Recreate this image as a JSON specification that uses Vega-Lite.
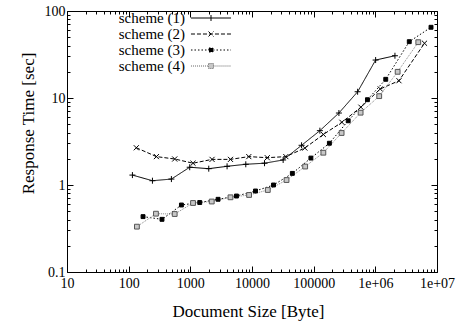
{
  "$schema": "https://vega.github.io/schema/vega-lite/v6.json",
  "width": 370,
  "height": 261,
  "autosize": {"type": "none"},
  "padding": {"left": 67, "top": 11, "right": 20, "bottom": 50},
  "background": "white",
  "config": {
    "view": {"stroke": "black", "strokeWidth": 1},
    "axis": {
      "labelFont": "Liberation Serif",
      "labelFontSize": 14,
      "labelColor": "black",
      "titleFont": "Liberation Serif",
      "titleFontSize": 17,
      "titleFontWeight": "normal",
      "titleColor": "black",
      "grid": false,
      "domain": false,
      "tickColor": "black",
      "tickWidth": 1,
      "labelOverlap": false,
      "labelFlush": false
    },
    "legend": {
      "labelFont": "Liberation Serif",
      "labelFontSize": 15,
      "labelColor": "black"
    }
  },
  "data": {
    "values": [
      {"s": "scheme (1)", "x": 115, "y": 1.30},
      {"s": "scheme (1)", "x": 243, "y": 1.12},
      {"s": "scheme (1)", "x": 493, "y": 1.17},
      {"s": "scheme (1)", "x": 977, "y": 1.60},
      {"s": "scheme (1)", "x": 1990, "y": 1.54},
      {"s": "scheme (1)", "x": 3944, "y": 1.64},
      {"s": "scheme (1)", "x": 7930, "y": 1.73},
      {"s": "scheme (1)", "x": 15960, "y": 1.78},
      {"s": "scheme (1)", "x": 31990, "y": 1.94},
      {"s": "scheme (1)", "x": 63660, "y": 2.86},
      {"s": "scheme (1)", "x": 126100, "y": 4.21},
      {"s": "scheme (1)", "x": 256500, "y": 6.72},
      {"s": "scheme (1)", "x": 516400, "y": 11.8},
      {"s": "scheme (1)", "x": 1011000, "y": 27.3},
      {"s": "scheme (1)", "x": 2080000, "y": 30.6},
      {"s": "scheme (2)", "x": 133, "y": 2.68},
      {"s": "scheme (2)", "x": 282, "y": 2.12},
      {"s": "scheme (2)", "x": 558, "y": 1.99},
      {"s": "scheme (2)", "x": 1106, "y": 1.78},
      {"s": "scheme (2)", "x": 2250, "y": 1.97},
      {"s": "scheme (2)", "x": 4477, "y": 1.97},
      {"s": "scheme (2)", "x": 8872, "y": 2.12},
      {"s": "scheme (2)", "x": 17700, "y": 2.06},
      {"s": "scheme (2)", "x": 35400, "y": 2.12},
      {"s": "scheme (2)", "x": 71950, "y": 2.66},
      {"s": "scheme (2)", "x": 143600, "y": 3.81},
      {"s": "scheme (2)", "x": 287000, "y": 5.26},
      {"s": "scheme (2)", "x": 583600, "y": 7.84},
      {"s": "scheme (2)", "x": 1202000, "y": 12.7},
      {"s": "scheme (2)", "x": 2416000, "y": 15.8},
      {"s": "scheme (2)", "x": 6270000, "y": 42.6},
      {"s": "scheme (3)", "x": 171, "y": 0.433},
      {"s": "scheme (3)", "x": 347, "y": 0.403},
      {"s": "scheme (3)", "x": 717, "y": 0.589},
      {"s": "scheme (3)", "x": 1421, "y": 0.629},
      {"s": "scheme (3)", "x": 2818, "y": 0.685},
      {"s": "scheme (3)", "x": 5600, "y": 0.747},
      {"s": "scheme (3)", "x": 11400, "y": 0.853},
      {"s": "scheme (3)", "x": 22340, "y": 1.0},
      {"s": "scheme (3)", "x": 45100, "y": 1.36},
      {"s": "scheme (3)", "x": 90150, "y": 2.04},
      {"s": "scheme (3)", "x": 179800, "y": 3.02},
      {"s": "scheme (3)", "x": 363000, "y": 5.47},
      {"s": "scheme (3)", "x": 744700, "y": 9.56},
      {"s": "scheme (3)", "x": 1475000, "y": 16.4},
      {"s": "scheme (3)", "x": 3550000, "y": 44.4},
      {"s": "scheme (3)", "x": 8000000, "y": 65.0},
      {"s": "scheme (4)", "x": 136, "y": 0.332},
      {"s": "scheme (4)", "x": 277, "y": 0.468},
      {"s": "scheme (4)", "x": 558, "y": 0.464},
      {"s": "scheme (4)", "x": 1106, "y": 0.621},
      {"s": "scheme (4)", "x": 2225, "y": 0.646},
      {"s": "scheme (4)", "x": 4477, "y": 0.722},
      {"s": "scheme (4)", "x": 8970, "y": 0.768},
      {"s": "scheme (4)", "x": 18040, "y": 0.876},
      {"s": "scheme (4)", "x": 36300, "y": 1.14},
      {"s": "scheme (4)", "x": 72800, "y": 1.63},
      {"s": "scheme (4)", "x": 143600, "y": 2.35},
      {"s": "scheme (4)", "x": 283800, "y": 3.96},
      {"s": "scheme (4)", "x": 577000, "y": 6.78},
      {"s": "scheme (4)", "x": 1156000, "y": 10.5},
      {"s": "scheme (4)", "x": 2300000, "y": 20.0},
      {"s": "scheme (4)", "x": 4970000, "y": 43.8}
    ]
  },
  "layer": [
    {
      "mark": {"type": "line", "strokeWidth": 1},
      "encoding": {
        "x": {
          "field": "x", "type": "quantitative",
          "scale": {"type": "log", "domain": [10, 10000000], "nice": false},
          "axis": {
            "orient": "bottom",
            "title": "Document Size [Byte]",
            "titlePadding": 10,
            "titleX": 181,
            "values": [10,20,30,40,50,60,70,80,90,100,200,300,400,500,600,700,800,900,1000,2000,3000,4000,5000,6000,7000,8000,9000,10000,20000,30000,40000,50000,60000,70000,80000,90000,100000,200000,300000,400000,500000,600000,700000,800000,900000,1000000,2000000,3000000,4000000,5000000,6000000,7000000,8000000,9000000,10000000],
            "tickSize": {"condition": {"test": "abs(log(datum.value)/LN10 - round(log(datum.value)/LN10)) < 0.000001", "value": -6}, "value": -3},
            "labelPadding": 10,
            "labelExpr": "abs(log(datum.value)/LN10 - round(log(datum.value)/LN10)) < 0.000001 ? (datum.value >= 1000000 ? '1e+0' + round(log(datum.value)/LN10) : format(datum.value, 'd')) : ''"
          }
        },
        "y": {
          "field": "y", "type": "quantitative",
          "scale": {"type": "log", "domain": [0.1, 100], "nice": false},
          "axis": {
            "orient": "left",
            "title": "Response Time [sec]",
            "titleX": -39,
            "titleY": 112,
            "titleAlign": "center",
            "titleBaseline": "middle",
            "values": [0.1,0.2,0.3,0.4,0.5,0.6,0.7,0.8,0.9,1,2,3,4,5,6,7,8,9,10,20,30,40,50,60,70,80,90,100],
            "tickSize": {"condition": {"test": "abs(log(datum.value)/LN10 - round(log(datum.value)/LN10)) < 0.000001", "value": -6}, "value": -3},
            "labelPadding": 8,
            "labelExpr": "abs(log(datum.value)/LN10 - round(log(datum.value)/LN10)) < 0.000001 ? format(datum.value, '~g') : ''"
          }
        },
        "color": {
          "field": "s", "type": "nominal",
          "scale": {"domain": ["scheme (1)", "scheme (2)", "scheme (3)", "scheme (4)"], "range": ["black", "black", "black", "#888888"]},
          "legend": null
        },
        "strokeDash": {
          "field": "s", "type": "nominal",
          "scale": {"domain": ["scheme (1)", "scheme (2)", "scheme (3)", "scheme (4)"], "range": [[1, 0], [4, 2], [1.5, 2], [1, 1]]},
          "legend": null
        }
      }
    },
    {
      "mark": {"type": "point", "filled": true, "strokeWidth": 1, "opacity": 1, "size": 36},
      "encoding": {
        "x": {
          "field": "x", "type": "quantitative",
          "axis": {
            "orient": "top",
            "title": null,
            "labels": false,
            "values": [10,20,30,40,50,60,70,80,90,100,200,300,400,500,600,700,800,900,1000,2000,3000,4000,5000,6000,7000,8000,9000,10000,20000,30000,40000,50000,60000,70000,80000,90000,100000,200000,300000,400000,500000,600000,700000,800000,900000,1000000,2000000,3000000,4000000,5000000,6000000,7000000,8000000,9000000,10000000],
            "tickSize": {"condition": {"test": "abs(log(datum.value)/LN10 - round(log(datum.value)/LN10)) < 0.000001", "value": -6}, "value": -3}
          }
        },
        "y": {
          "field": "y", "type": "quantitative",
          "axis": {
            "orient": "right",
            "title": null,
            "labels": false,
            "values": [0.1,0.2,0.3,0.4,0.5,0.6,0.7,0.8,0.9,1,2,3,4,5,6,7,8,9,10,20,30,40,50,60,70,80,90,100],
            "tickSize": {"condition": {"test": "abs(log(datum.value)/LN10 - round(log(datum.value)/LN10)) < 0.000001", "value": -6}, "value": -3}
          }
        },
        "shape": {
          "field": "s", "type": "nominal",
          "scale": {"domain": ["scheme (1)", "scheme (2)", "scheme (3)", "scheme (4)"], "range": ["M-1,0H1M0,-1V1", "M-0.85,-0.85L0.85,0.85M-0.85,0.85L0.85,-0.85", "M-0.65,-0.65H0.65V0.65H-0.65Z", "M-0.8,-0.8H0.8V0.8H-0.8Z"]},
          "legend": null
        },
        "fill": {
          "field": "s", "type": "nominal",
          "scale": {"domain": ["scheme (1)", "scheme (2)", "scheme (3)", "scheme (4)"], "range": ["transparent", "transparent", "black", "#c8c8c8"]},
          "legend": null
        },
        "stroke": {
          "field": "s", "type": "nominal",
          "scale": {"domain": ["scheme (1)", "scheme (2)", "scheme (3)", "scheme (4)"], "range": ["black", "black", "black", "#555555"]},
          "legend": null
        }
      }
    },
    {
      "transform": [{"filter": "datum.y < 0"}],
      "mark": {"type": "point", "filled": true, "strokeWidth": 1, "size": 169},
      "encoding": {
        "x": {"field": "x", "type": "quantitative", "axis": null},
        "y": {"field": "y", "type": "quantitative", "axis": null},
        "shape": {
          "field": "s", "type": "nominal",
          "scale": {"domain": ["scheme (1)", "scheme (2)", "scheme (3)", "scheme (4)"], "range": [
            "M-3.08,0H3.08M0,-0.46V0.46",
            "M-3.08,0H3.08M-0.38,-0.38L0.38,0.38M-0.38,0.38L0.38,-0.38",
            "M-3.08,0H-0.31M0.31,0H3.08M-0.31,-0.31H0.31V0.31H-0.31Z",
            "M-3.08,0H-0.38M0.38,0H3.08M-0.38,-0.38H0.38V0.38H-0.38Z"
          ]},
          "legend": {
            "title": null,
            "orient": "none",
            "legendX": 43,
            "legendY": -0.5,
            "labelAlign": "right",
            "labelBaseline": "middle",
            "labelOffset": -33.5,
            "symbolOffset": 93.5,
            "symbolSize": 169,
            "symbolStrokeWidth": 1,
            "symbolOpacity": 1,
            "rowPadding": 0,
            "labelLimit": 300
          }
        },
        "fill": {
          "field": "s", "type": "nominal",
          "scale": {"domain": ["scheme (1)", "scheme (2)", "scheme (3)", "scheme (4)"], "range": ["transparent", "transparent", "black", "#c8c8c8"]}
        },
        "stroke": {
          "field": "s", "type": "nominal",
          "scale": {"domain": ["scheme (1)", "scheme (2)", "scheme (3)", "scheme (4)"], "range": ["black", "black", "black", "#666666"]}
        },
        "strokeDash": {
          "field": "s", "type": "nominal",
          "scale": {"domain": ["scheme (1)", "scheme (2)", "scheme (3)", "scheme (4)"], "range": [[1, 0], [4, 2], [1.5, 2], [1, 1]]}
        }
      }
    }
  ],
  "resolve": {
    "axis": {"x": "independent", "y": "independent"},
    "scale": {"shape": "independent", "fill": "independent", "stroke": "independent", "strokeDash": "independent", "color": "independent"}
  }
}
